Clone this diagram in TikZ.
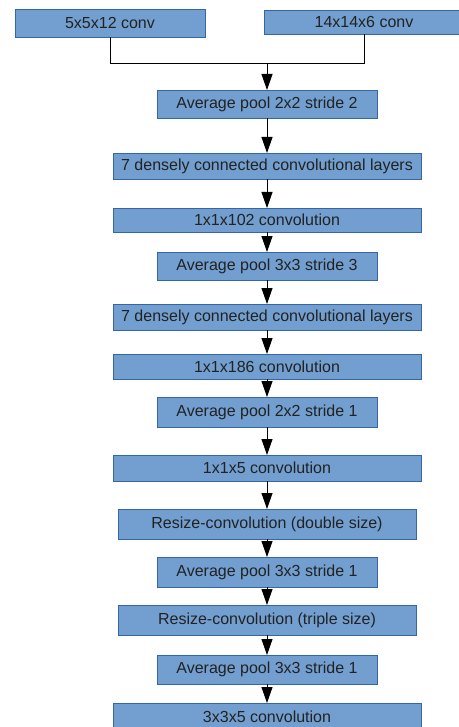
\documentclass[tikz,border=0pt]{standalone}
\usepackage{fontspec}
\setmainfont{Liberation Sans}
\usetikzlibrary{arrows.meta,positioning}

\definecolor{boxfill}{HTML}{729FCF}
\definecolor{boxline}{HTML}{3465A4}
\definecolor{boxtext}{HTML}{222222}

\begin{document}
\begin{tikzpicture}[->,>={Triangle[width=11pt,length=16pt]},line width=0.9pt,
  layer/.style={rectangle,fill=boxfill,draw=boxline,line width=0.8pt,text=boxtext,inner sep=0pt,outer sep=0pt,
    font=\fontsize{16}{19}\selectfont},
  short layer/.style={layer,minimum width=220pt},
  long layer/.style={layer,minimum width=308pt},
  mid layer/.style={layer,minimum width=298pt}]

  \useasboundingbox (0,0) rectangle (458pt,-727pt);

  % two inputs
  \node[layer,minimum width=190pt,minimum height=28pt] (in1) at (110pt,-23pt) {5x5x12 conv};
  \node[layer,minimum width=200pt,minimum height=24pt] (in2) at (364pt,-22pt) {14x14x6 conv};
  \coordinate (join) at (267pt,-63pt);

  % main stack
  \node[short layer,minimum height=28pt] (pool1) at (267pt,-104pt) {Average pool 2x2 stride 2};
  \node[long layer,minimum height=26pt] (dense1) [below=35pt of pool1] {7 densely connected convolutional layers};
  \node[long layer,minimum height=24pt] (conv1) [below=29pt of dense1] {1x1x102 convolution};
  \node[short layer,minimum height=28pt] (pool2) [below=20pt of conv1] {Average pool 3x3 stride 3};
  \node[long layer,minimum height=26pt] (dense2) [below=24pt of pool2] {7 densely connected convolutional layers};
  \node[long layer,minimum height=25pt] (conv2) [below=24pt of dense2] {1x1x186 convolution};
  \node[short layer,minimum height=30pt] (pool3) [below=18pt of conv2] {Average pool 2x2 stride 1};
  \node[long layer,minimum height=26pt] (conv3) [below=28pt of pool3] {1x1x5 convolution};
  \node[mid layer,minimum height=30pt] (resize1) [below=28pt of conv3] {Resize-convolution (double size)};
  \node[short layer,minimum height=30pt] (pool4) [below=18pt of resize1] {Average pool 3x3 stride 1};
  \node[mid layer,minimum height=30pt] (resize2) [below=18pt of pool4] {Resize-convolution (triple size)};
  \node[short layer,minimum height=29pt] (pool5) [below=20pt of resize2] {Average pool 3x3 stride 1};
  \node[long layer,minimum height=28pt] (conv4) [below=19pt of pool5] {3x3x5 convolution};

  \draw[-] (in1) |- (join);
  \draw[-] (in2) |- (join);

  \path
    (join) edge (pool1)
    (pool1) edge (dense1)
    (dense1) edge (conv1)
    (conv1) edge (pool2)
    (pool2) edge (dense2)
    (dense2) edge (conv2)
    (conv2) edge (pool3)
    (pool3) edge (conv3)
    (conv3) edge (resize1)
    (resize1) edge (pool4)
    (pool4) edge (resize2)
    (resize2) edge (pool5)
    (pool5) edge (conv4);
\end{tikzpicture}
\end{document}
